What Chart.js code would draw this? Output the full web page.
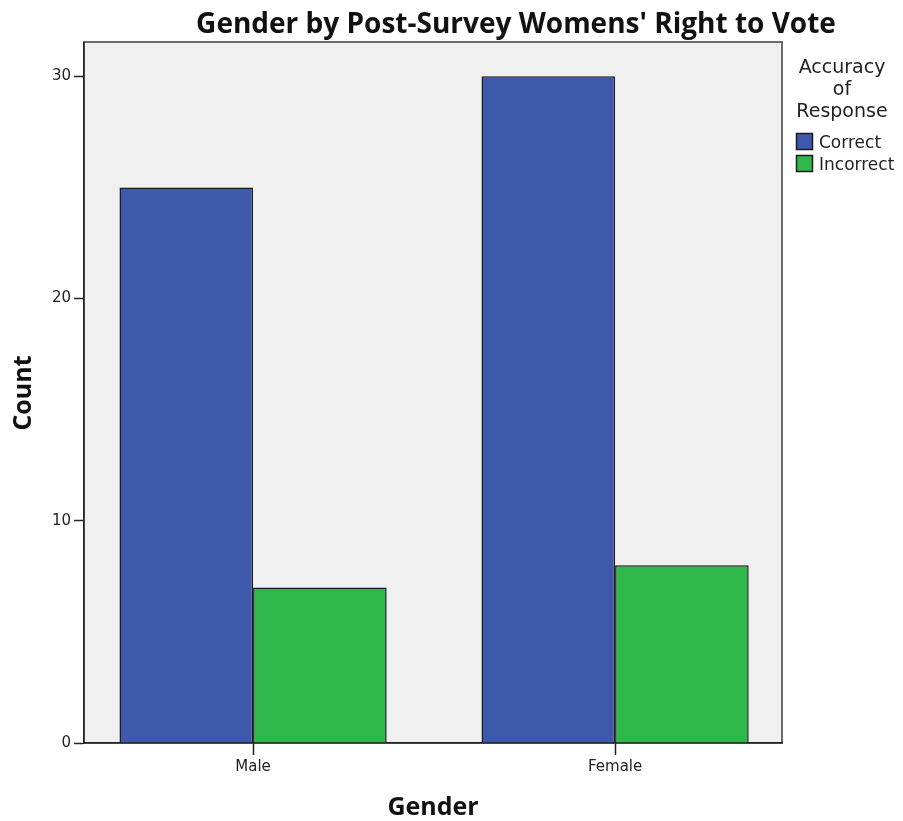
<!DOCTYPE html>
<html>
<head>
<meta charset="utf-8">
<title>Gender by Post-Survey Womens' Right to Vote</title>
<script src="https://cdn.jsdelivr.net/npm/chart.js@4/dist/chart.umd.min.js"></script>
<style>
  html, body { margin: 0; padding: 0; background: #fff; }
  #wrap { width: 903px; height: 821px; }
</style>
</head>
<body>
<div id="wrap"><canvas id="chart_gender"></canvas></div>
<script>
const genders = ["Male", "Female"];
const correct = [25, 30];
const incorrect = [7, 8];
const countTicks = [0, 10, 20, 30];
const legendTitle = ["Accuracy", "of", "Response"];

const $chart_gender = document.getElementById("chart_gender");

const boldFont = "'Open Sans', 'DejaVu Sans', sans-serif";
const plainFont = "'DejaVu Sans', sans-serif";

// grey panel + frame behind the bars, titles and the legend on top
const decorations = {
    id: "decorations",
    beforeDraw(chart) {
        const { ctx, chartArea: a } = chart;
        ctx.save();
        ctx.fillStyle = "#f0f0f0";
        ctx.fillRect(a.left, a.top, a.right - a.left, a.bottom - a.top);
        ctx.strokeStyle = "#6b6b6b";
        ctx.lineWidth = 2;
        ctx.strokeRect(a.left, a.top - 1, a.right - a.left, a.bottom - a.top + 1);
        ctx.restore();
    },
    afterDraw(chart) {
        const { ctx, chartArea: a } = chart;
        const midX = (a.left + a.right) / 2;
        ctx.save();
        ctx.fillStyle = "#111";

        ctx.font = "bold 28px " + boldFont;
        ctx.textAlign = "center";
        ctx.textBaseline = "alphabetic";
        ctx.fillText("Gender by Post-Survey Womens' Right to Vote", 516, 33);

        ctx.font = "bold 25px " + boldFont;
        ctx.fillText("Gender", midX, 815);

        ctx.save();
        ctx.translate(31, (a.top + a.bottom) / 2);
        ctx.rotate(-Math.PI / 2);
        ctx.fillText("Count", 0, 0);
        ctx.restore();

        // legend
        ctx.font = "19px " + plainFont;
        ctx.fillStyle = "#222";
        legendTitle.forEach((line, i) => {
            ctx.fillText(line, 842, 73 + i * 22);
        });
        ctx.textAlign = "left";
        ctx.font = "17px " + plainFont;
        chart.data.datasets.forEach((ds, i) => {
            const y = 133 + i * 22;
            ctx.fillStyle = ds.backgroundColor;
            ctx.fillRect(796, y, 17, 17);
            ctx.strokeStyle = "#1a1a1a";
            ctx.lineWidth = 1.5;
            ctx.strokeRect(796.5, y + 0.5, 16, 16);
            ctx.fillStyle = "#222";
            ctx.fillText(ds.label, 819, y + 15);
        });
        ctx.restore();
    },
};

new Chart($chart_gender, {
    type: "bar",
    data: {
        datasets: [
            {
                label: "Correct",
                data: genders.map((g, i) => ({ x: i, y: correct[i] })),
                backgroundColor: "#3e58ac",
                borderColor: "#1a1a1a",
                borderWidth: 1.5,
            },
            {
                label: "Incorrect",
                data: genders.map((g, i) => ({ x: i, y: incorrect[i] })),
                backgroundColor: "#2eb84b",
                borderColor: "#1a1a1a",
                borderWidth: 1.5,
            },
        ],
    },
    options: {
        responsive: true,
        maintainAspectRatio: false,
        animation: false,
        categoryPercentage: 0.738,
        barPercentage: 1,
        layout: { padding: { top: 43, right: 121, bottom: 0, left: 0 } },
        plugins: {
            legend: { display: false },
            title: { display: false },
            tooltip: { enabled: false },
        },
        scales: {
            x: {
                type: "linear",
                offset: false,
                min: -0.467,
                max: 1.461,
                afterBuildTicks: (axis) => {
                    axis.ticks = genders.map((g, i) => ({ value: i }));
                },
                afterFit: (axis) => {
                    axis.height = 78;
                },
                ticks: {
                    callback: (v) => genders[v],
                    color: "#222",
                    font: { family: plainFont, size: 15 },
                    padding: 3,
                    maxRotation: 0,
                },
                grid: {
                    offset: false,
                    drawOnChartArea: false,
                    tickLength: 12,
                    tickColor: "#222",
                    tickWidth: 1.5,
                },
                border: { display: true, color: "#222", width: 1.5 },
            },
            y: {
                min: 0,
                max: 31.5,
                afterBuildTicks: (axis) => {
                    axis.ticks = countTicks.map((v) => ({ value: v }));
                },
                afterFit: (axis) => {
                    axis.width = 84;
                },
                ticks: {
                    color: "#222",
                    font: { family: plainFont, size: 15 },
                    padding: 3,
                },
                grid: {
                    drawOnChartArea: false,
                    tickLength: 10,
                    tickColor: "#222",
                    tickWidth: 1.5,
                },
                border: { display: true, color: "#222", width: 1.5 },
            },
        },
    },
    plugins: [decorations],
});
</script>
</body>
</html>
